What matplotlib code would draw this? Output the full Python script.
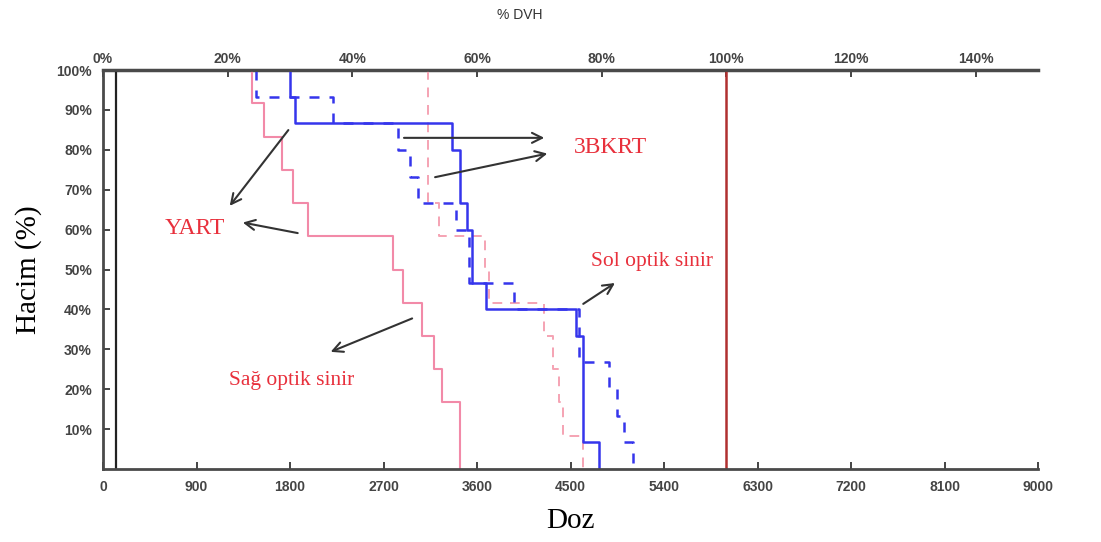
import numpy as np
import matplotlib.pyplot as plt

plt.rcParams['font.family'] = ['Liberation Sans', 'DejaVu Sans']

# Doz (cGy) değerleri ve hacim (%) basamakları
vol_12 = [100, 91.7, 83.3, 75, 66.7, 58.3, 50, 41.7, 33.3, 25, 16.7, 0]
sag_yart_doz = [1434, 1553, 1721, 1830, 1968, 2789, 2888, 3066, 3185, 3264, 3432]

vol_pd = [100, 66.7, 58.3, 50, 41.7, 33.3, 25, 16.7, 8.3, 0]
sag_3bkrt_doz = [3125, 3234, 3676, 3714, 4249, 4332, 4385, 4424, 4619]

vol_bs = [100, 93.3, 86.7, 80, 66.7, 60, 46.7, 40, 33.3, 6.7, 0]
sol_yart_doz = [1800, 1849, 3363, 3432, 3501, 3551, 3684, 4550, 4619, 4778]

vol_bd = [100, 93.3, 86.7, 80, 73.3, 66.7, 60, 46.7, 40, 26.7, 20, 13.3, 6.7, 0]
sol_3bkrt_doz = [1473, 2215, 2838, 2957, 3036, 3402, 3521, 3951, 4580, 4868,
                 4948, 5017, 5097]

doz_ticks = np.arange(0, 9001, 900)
dvh_ticks = np.arange(0, 141, 20)
hacim_ticks = np.arange(10, 101, 10)
recete_doz = 6000


def basamak(doz, hacim):
    # her doz değeri bir dikey iniş, ardından yatay geçiş
    xs, ys = [], []
    for i, d in enumerate(doz):
        xs += [d, d]
        ys += [hacim[i], hacim[i + 1]]
    return xs, ys


fig = plt.figure(figsize=(11.01, 5.42), dpi=100)
ax = fig.add_axes([0.0936, 0.1347, 0.8492, 0.7361])

ax.plot(*basamak(sag_yart_doz, vol_12), color='#f28aa8', lw=1.5)
ax.plot(*basamak(sag_3bkrt_doz, vol_pd), color='#f5a3b3', lw=1.4,
        dashes=(5, 4))
ax.plot(*basamak(sol_yart_doz, vol_bs), color='#3535ec', lw=1.8)
ax.plot(*basamak(sol_3bkrt_doz, vol_bd), color='#3535ec', lw=1.8,
        dashes=(4, 4))

ax.axvline(120, color='#222222', lw=1.6)
ax.axvline(recete_doz, color='#b03030', lw=1.8)

ax.set_xlim(0, 9000)
ax.set_ylim(0, 100)

ax.spines['right'].set_visible(False)
for s in ['left', 'bottom', 'top']:
    ax.spines[s].set_color('#4a4a4a')
    ax.spines[s].set_linewidth(2)

ax.set_xticks(doz_ticks)
ax.set_xticklabels([str(t) for t in doz_ticks])
ax.set_yticks(hacim_ticks)
ax.set_yticklabels([f'{t}%' for t in hacim_ticks])
ax.tick_params(direction='in', length=5, width=1.4, color='#444444',
               labelsize=10, labelcolor='#444444', pad=8)
for lab in ax.get_xticklabels() + ax.get_yticklabels():
    lab.set_fontweight('bold')

# üst eksen: reçete dozunun yüzdesi
ust = ax.secondary_xaxis('top', functions=(lambda d: d / recete_doz * 100,
                                           lambda p: p * recete_doz / 100))
ust.set_xticks(dvh_ticks)
ust.set_xticklabels([f'{t}%' for t in dvh_ticks])
ust.spines['top'].set_color('#4a4a4a')
ust.spines['top'].set_linewidth(2.5)
ust.tick_params(direction='in', length=5, width=1.4, color='#444444',
                labelsize=10, labelcolor='#444444', pad=3)
for lab in ust.get_xticklabels():
    lab.set_fontweight('bold')
fig.text(0.472, 0.972, '% DVH', fontsize=10, color='#333333',
         ha='center', va='center')

serif = ['Liberation Serif', 'DejaVu Serif']
ax.set_xlabel('Doz', fontsize=21, family=serif, labelpad=10)
ax.set_ylabel('Hacim (%)', fontsize=21, family=serif, labelpad=10)

kirmizi = '#e8303c'
ok = dict(arrowstyle='->', color='#333333', lw=1.5, mutation_scale=18)

ax.text(886, 60.4, 'YART', color=kirmizi, fontsize=17, family=serif,
        ha='center', va='center')
ax.annotate('', xy=(1203, 65.4), xytext=(1800, 85.5), arrowprops=ok)
ax.annotate('', xy=(1319, 61.9), xytext=(1900, 59), arrowprops=ok)

ax.text(4880, 80.5, '3BKRT', color=kirmizi, fontsize=17, family=serif,
        ha='center', va='center')
ax.annotate('', xy=(4274, 83), xytext=(2870, 83), arrowprops=ok)
ax.annotate('', xy=(4303, 79.2), xytext=(3170, 73), arrowprops=ok)

ax.text(5285, 51.9, 'Sol optik sinir', color=kirmizi, fontsize=15.5,
        family=serif, ha='center', va='center')
ax.annotate('', xy=(4950, 47), xytext=(4600, 41), arrowprops=ok)

ax.text(1819, 22.3, 'Sağ optik sinir', color=kirmizi, fontsize=15.5,
        family=serif, ha='center', va='center')
ax.annotate('', xy=(2166, 29.1), xytext=(3000, 38), arrowprops=ok)

fig.savefig('out.png', dpi=100)
